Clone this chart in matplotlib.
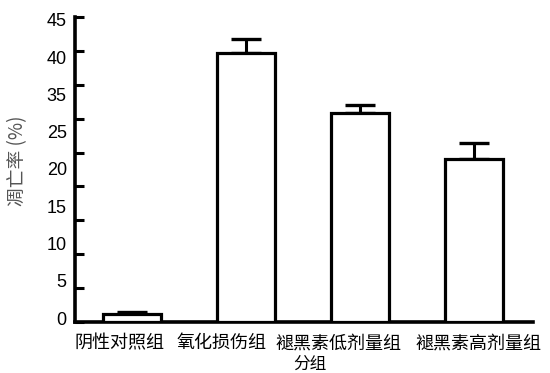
import numpy as np
import matplotlib
matplotlib.use("Agg")
import matplotlib.pyplot as plt
from matplotlib.transforms import blended_transform_factory

plt.rcParams['font.family'] = ['Noto Sans CJK SC', 'DejaVu Sans']

groups = ["阴性对照组", "氧化损伤组", "褪黑素低剂量组", "褪黑素高剂量组"]
rates = [1.1, 39.7, 30.9, 24.1]
errs = [0.3, 2.0, 1.1, 2.3]
ytick_values = [0, 5, 10, 15, 20, 25, 30, 35, 40, 45]
ytick_texts = ["45", "40", "35", "25", "20", "15", "10", "5", "0"]

fig = plt.figure(figsize=(5.5, 3.73), dpi=100)
ax = fig.add_axes([0.1364, 0.1375, 0.969 - 0.1364, 0.954 - 0.1375])

x = np.arange(len(groups))
ax.bar(x, rates, width=0.51, facecolor="white", edgecolor="black",
       linewidth=2.3, zorder=3)
ax.errorbar(x, rates, yerr=[np.zeros(len(errs)), errs], fmt="none",
            ecolor="black", elinewidth=2.2, capsize=11, capthick=2.4, zorder=2)

ax.set_xlim(-0.5, 3.52)
ax.set_ylim(0, 45)
ax.set_yticks(ytick_values)
ax.set_yticklabels([])
ax.tick_params(axis="y", direction="in", length=6.5, width=2.2)
ax.set_xticks([])
for side in ("top", "right"):
    ax.spines[side].set_visible(False)
for side in ("left", "bottom"):
    ax.spines[side].set_linewidth(2.6)

# y labels as drawn in the source: nine labels spread evenly over the axis
trans_y = blended_transform_factory(ax.transAxes, ax.transData)
for pos, txt in zip(np.linspace(44.3, 0.25, len(ytick_texts)), ytick_texts):
    ax.text(-0.018, pos, txt, transform=trans_y, ha="right", va="center",
            fontsize=13, family=["Liberation Sans", "DejaVu Sans"])

# group labels sit a little off the bar centres in the source
offsets = [-0.11, -0.21, -0.19, 0.04]
trans_x = blended_transform_factory(ax.transData, ax.transAxes)
for xi, off, name in zip(x, offsets, groups):
    ax.text(xi + off, -0.07, name, transform=trans_x, ha="center", va="center",
            fontsize=13)

fig.text(310 / 550, 1 - 364 / 373, "分组", ha="center", va="center", fontsize=12)
fig.text(18 / 550, 1 - 161 / 373, "凋亡率 (%)", ha="center", va="center",
         rotation=90, fontsize=13.5, color="#555555")

fig.savefig("out.png", dpi=100, facecolor="white")
